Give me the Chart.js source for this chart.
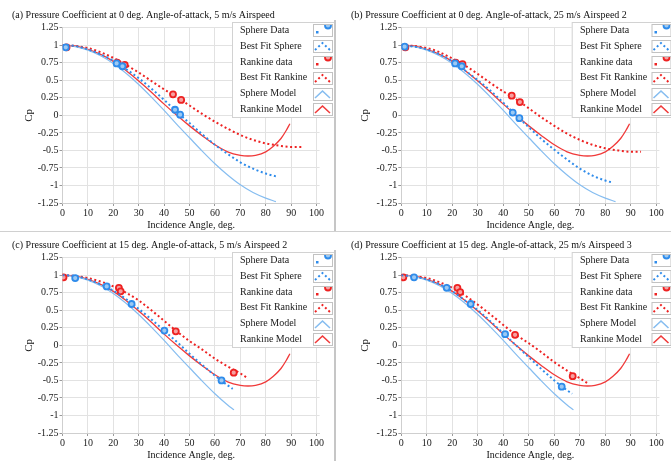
<!DOCTYPE html>
<html>
<head>
<meta charset="utf-8">
<script src="https://cdn.jsdelivr.net/npm/chart.js@4/dist/chart.umd.min.js"></script>
<style>
  html, body { margin: 0; padding: 0; background: #fff; }
  #wrap { position: relative; width: 671px; height: 461px; overflow: hidden; background: #fff; }
  #wrap canvas { position: absolute; }
  .sep { position: absolute; background: #c6c6c6; z-index: 5; }
</style>
</head>
<body>
<div id="wrap">
  <canvas id="pa" width="335" height="231" style="left:0;top:0"></canvas>
  <canvas id="pb" width="336" height="231" style="left:335px;top:0"></canvas>
  <canvas id="pc" width="335" height="229" style="left:0;top:232px"></canvas>
  <canvas id="pd" width="336" height="229" style="left:335px;top:232px"></canvas>
  <div class="sep" style="left:334px;top:20px;width:2px;height:211px"></div>
  <div class="sep" style="left:334px;top:250px;width:2px;height:211px"></div>
  <div class="sep" style="left:0;top:231px;width:671px;height:1px;background:#d0d0d0"></div>
</div>
<script>
// ---- axes ----
const angleTicks = [0, 10, 20, 30, 40, 50, 60, 70, 80, 90, 100];
const cpTicks = [1.25, 1, 0.75, 0.5, 0.25, 0, -0.25, -0.5, -0.75, -1, -1.25];
const cpTickLabels = ['1.25', '1', '0.75', '0.5', '0.25', '0', '-0.25', '-0.5', '-0.75', '-1', '-1.25'];

// ---- panel titles ----
const titleA = '(a) Pressure Coefficient at 0 deg. Angle-of-attack, 5 m/s Airspeed';
const titleB = '(b) Pressure Coefficient at 0 deg. Angle-of-attack, 25 m/s Airspeed 2';
const titleC = '(c) Pressure Coefficient at 15 deg. Angle-of-attack, 5 m/s Airspeed 2';
const titleD = '(d) Pressure Coefficient at 15 deg. Angle-of-attack, 25 m/s Airspeed 3';

// ---- model curves ----
const sphereModelAngleAB = [0, 5, 10, 15, 20, 25, 30, 35, 40, 45, 50, 55, 60, 65, 70, 75, 80, 84];
const sphereModelCpAB    = [1, 0.98, 0.93, 0.85, 0.74, 0.60, 0.44, 0.26, 0.07, -0.13, -0.32, -0.51, -0.69, -0.85, -0.99, -1.10, -1.18, -1.23];
const sphereModelAngleCD = [0, 5, 10, 15, 20, 25, 30, 35, 40, 45, 50, 55, 60, 65, 67.5];
const sphereModelCpCD    = [1, 0.98, 0.93, 0.85, 0.74, 0.60, 0.44, 0.26, 0.07, -0.13, -0.32, -0.51, -0.69, -0.85, -0.92];

const rankineModelAngle = [0, 5, 10, 15, 20, 25, 30, 35, 40, 45, 50, 55, 60, 65, 70, 73, 76, 80, 83, 86, 88, 89.5];
const rankineModelCp    = [1, 0.99, 0.94, 0.87, 0.77, 0.64, 0.49, 0.33, 0.16, 0.0, -0.15, -0.29, -0.42, -0.52, -0.57, -0.58, -0.57, -0.52, -0.44, -0.33, -0.22, -0.12];

// ---- best fit curves ----
const fitSphereAngleA = [0, 5, 10, 15, 20, 25, 30, 35, 40, 45, 50, 55, 60, 65, 70, 75, 80, 84];
const fitSphereCpA    = [1, 0.99, 0.94, 0.87, 0.78, 0.66, 0.53, 0.38, 0.22, 0.05, -0.11, -0.27, -0.42, -0.55, -0.67, -0.76, -0.83, -0.87];
const fitSphereAngleB = [0, 5, 10, 15, 20, 25, 30, 35, 40, 45, 50, 55, 60, 65, 70, 75, 80, 83];
const fitSphereCpB    = [1, 0.98, 0.94, 0.87, 0.77, 0.64, 0.50, 0.35, 0.18, 0.0, -0.17, -0.34, -0.49, -0.63, -0.76, -0.86, -0.93, -0.96];
const fitSphereAngleC = [0, 5, 10, 15, 20, 25, 30, 35, 40, 45, 50, 55, 60, 65, 67];
const fitSphereCpC    = [1, 0.99, 0.94, 0.87, 0.78, 0.66, 0.52, 0.37, 0.21, 0.05, -0.12, -0.28, -0.43, -0.57, -0.62];
const fitSphereAngleD = [0, 5, 10, 15, 20, 25, 30, 35, 40, 45, 50, 55, 60, 65, 67];
const fitSphereCpD    = [1, 0.98, 0.94, 0.87, 0.77, 0.64, 0.50, 0.34, 0.17, 0.0, -0.17, -0.34, -0.50, -0.64, -0.69];

const fitRankineAngleA = [0, 5, 10, 15, 20, 25, 30, 35, 40, 45, 50, 55, 60, 65, 70, 75, 80, 85, 90, 94];
const fitRankineCpA    = [1, 0.99, 0.96, 0.90, 0.82, 0.72, 0.61, 0.49, 0.37, 0.26, 0.14, 0.02, -0.09, -0.19, -0.28, -0.35, -0.40, -0.43, -0.45, -0.45];
const fitRankineAngleB = [0, 5, 10, 15, 20, 25, 30, 35, 40, 45, 50, 55, 60, 65, 70, 75, 80, 85, 90, 94];
const fitRankineCpB    = [1, 0.99, 0.96, 0.90, 0.81, 0.71, 0.59, 0.46, 0.34, 0.23, 0.10, -0.03, -0.15, -0.26, -0.35, -0.42, -0.47, -0.50, -0.52, -0.52];
const fitRankineAngleC = [0, 5, 10, 15, 20, 25, 30, 35, 40, 45, 50, 55, 60, 65, 70, 73];
const fitRankineCpC    = [1, 0.99, 0.96, 0.91, 0.84, 0.75, 0.64, 0.50, 0.35, 0.20, 0.06, -0.06, -0.19, -0.30, -0.40, -0.47];
const fitRankineAngleD = [0, 5, 10, 15, 20, 25, 30, 35, 40, 45, 50, 55, 60, 65, 70, 73];
const fitRankineCpD    = [1, 0.99, 0.96, 0.90, 0.82, 0.71, 0.58, 0.44, 0.29, 0.15, 0.03, -0.10, -0.24, -0.36, -0.47, -0.54];

// ---- measured pressure taps ----
const sphereDataAngleA = [1.3, 21.3, 23.6, 44.3, 46.3];
const sphereDataCpA    = [0.97, 0.74, 0.70, 0.08, 0.01];
const rankineDataAngleA = [1.6, 21.5, 24.5, 43.5, 46.7];
const rankineDataCpA    = [0.97, 0.75, 0.72, 0.30, 0.22];

const sphereDataAngleB = [1.3, 21.1, 23.7, 43.7, 46.3];
const sphereDataCpB    = [0.98, 0.74, 0.70, 0.04, -0.04];
const rankineDataAngleB = [1.6, 21.3, 24.0, 43.3, 46.5];
const rankineDataCpB    = [0.97, 0.75, 0.73, 0.28, 0.19];

const sphereDataAngleC = [5.0, 17.4, 27.2, 40.1, 62.6];
const sphereDataCpC    = [0.96, 0.84, 0.59, 0.21, -0.50];
const rankineDataAngleC = [0.4, 22.2, 22.9, 44.6, 67.4];
const rankineDataCpC    = [0.97, 0.82, 0.77, 0.20, -0.39];

const sphereDataAngleD = [5.0, 17.8, 27.2, 40.7, 62.9];
const sphereDataCpD    = [0.97, 0.82, 0.59, 0.16, -0.59];
const rankineDataAngleD = [0.8, 22.0, 23.1, 44.6, 67.2];
const rankineDataCpD    = [0.97, 0.82, 0.76, 0.15, -0.44];

// ---- styling ----
const BLUE = '#2f8ceb';
const BLUE_FILL = '#9cc9f3';
const BLUE_MODEL = '#86bdf0';
const RED = '#ee2222';
const RED_FILL = '#f6a0a0';
const RED_MODEL = '#f03a3a';
const SERIF = "'Liberation Serif', 'Times New Roman', serif";

Chart.defaults.font.family = SERIF;
Chart.defaults.font.size = 10;
Chart.defaults.color = '#1a1a1a';

const pairs = (xs, ys) => xs.map((x, i) => ({ x: x, y: ys[i] }));

// Boxed legend sitting over the top-right corner of the plot, icons on the right.
const boxLegend = {
  id: 'boxLegend',
  afterDatasetsDraw(chart, args, o) {
    if (!o || !o.show) return;
    const ctx = chart.ctx;
    ctx.save();
    ctx.fillStyle = '#fff';
    ctx.fillRect(o.x, o.y, o.w, o.h);
    ctx.strokeStyle = '#d2d2d2';
    ctx.lineWidth = 1;
    ctx.strokeRect(o.x + 0.5, o.y + 0.5, o.w, o.h);
    ctx.font = '10px ' + SERIF;
    ctx.textBaseline = 'middle';
    ctx.textAlign = 'left';
    chart.data.datasets.forEach((ds, i) => {
      const cy = o.row0 + i * o.step;
      ctx.fillStyle = '#1a1a1a';
      ctx.fillText(ds.label, o.textX, cy);
      const bx = o.iconX, by = Math.round(cy - 6), bw = 19, bh = 12;
      ctx.fillStyle = '#fff';
      ctx.fillRect(bx, by, bw, bh);
      ctx.strokeStyle = '#c2c2c2';
      ctx.lineWidth = 1;
      ctx.strokeRect(bx + 0.5, by + 0.5, bw, bh);
      ctx.save();
      ctx.beginPath();
      ctx.rect(bx + 1, by + 1, bw - 1, bh - 1);
      ctx.clip();
      if (ds.showLine) {
        ctx.strokeStyle = ds.borderColor;
        ctx.lineWidth = ds.borderDash ? 2 : 1.6;
        ctx.setLineDash(ds.borderDash || []);
        ctx.beginPath();
        ctx.moveTo(bx + 2, by + 10);
        ctx.lineTo(bx + 9.5, by + 3);
        ctx.lineTo(bx + 17, by + 10);
        ctx.stroke();
      } else {
        ctx.fillStyle = ds.borderColor;
        ctx.fillRect(bx + 3, by + 7, 2.5, 2.5);
        ctx.beginPath();
        ctx.arc(bx + 15, by + 1.5, 3, 0, Math.PI * 2);
        ctx.lineWidth = 1.8;
        ctx.strokeStyle = ds.borderColor;
        ctx.fillStyle = ds.backgroundColor;
        ctx.fill();
        ctx.stroke();
      }
      ctx.restore();
    });
    ctx.restore();
  }
};

function buildPanel(canvasId, title, s, g) {
  const datasets = [
    { label: 'Sphere Data', data: pairs(s.sdX, s.sdY), showLine: false,
      pointRadius: 3, pointBorderWidth: 1.8, borderColor: BLUE, backgroundColor: BLUE_FILL },
    { label: 'Best Fit Sphere', data: pairs(s.fsX, s.fsY), showLine: true, pointRadius: 0,
      borderColor: BLUE, borderWidth: 2, borderDash: [2, 2.6], cubicInterpolationMode: 'monotone' },
    { label: 'Rankine data', data: pairs(s.rdX, s.rdY), showLine: false,
      pointRadius: 3, pointBorderWidth: 1.8, borderColor: RED, backgroundColor: RED_FILL },
    { label: 'Best Fit Rankine', data: pairs(s.frX, s.frY), showLine: true, pointRadius: 0,
      borderColor: RED, borderWidth: 2, borderDash: [2, 2.6], cubicInterpolationMode: 'monotone' },
    { label: 'Sphere Model', data: pairs(s.smX, s.smY), showLine: true, pointRadius: 0,
      borderColor: BLUE_MODEL, borderWidth: 1.2, cubicInterpolationMode: 'monotone' },
    { label: 'Rankine Model', data: pairs(rankineModelAngle, rankineModelCp), showLine: true, pointRadius: 0,
      borderColor: RED_MODEL, borderWidth: 1.3, cubicInterpolationMode: 'monotone' }
  ];

  return new Chart(document.getElementById(canvasId), {
    type: 'scatter',
    data: { datasets: datasets },
    plugins: [boxLegend],
    options: {
      responsive: false,
      animation: false,
      devicePixelRatio: 1,
      layout: { padding: { left: g.padL, right: g.padR, top: 0, bottom: 0 } },
      plugins: {
        legend: { display: false },
        tooltip: { enabled: false },
        title: {
          display: true, text: title, align: 'start', color: '#111',
          font: { size: 10, weight: 'normal' },
          padding: { top: g.titleTop, bottom: g.titleBottom }
        },
        boxLegend: g.legend
      },
      scales: {
        x: {
          type: 'linear', min: 0, max: 101.2,
          afterBuildTicks: sc => { sc.ticks = angleTicks.map(v => ({ value: v })); },
          afterFit: sc => { sc.height = 28; },
          ticks: { padding: 1, maxRotation: 0, autoSkip: false, color: '#1a1a1a', callback: v => String(v) },
          grid: { color: '#e2e2e2', lineWidth: 1, tickLength: 3, tickColor: '#9a9a9a' },
          border: { color: '#cfcfcf' },
          title: { display: true, text: 'Incidence Angle, deg.', color: '#111', font: { size: 10 }, padding: { top: 0, bottom: 0 } }
        },
        y: {
          type: 'linear', min: -1.25, max: 1.25,
          afterBuildTicks: sc => { sc.ticks = cpTicks.map(v => ({ value: v })); },
          afterFit: sc => { sc.width = g.yW; },
          ticks: { padding: 1, autoSkip: false, color: '#1a1a1a', callback: v => cpTickLabels[cpTicks.indexOf(v)] },
          grid: { color: '#e2e2e2', lineWidth: 1, tickLength: 3, tickColor: '#9a9a9a' },
          border: { color: '#cfcfcf' },
          title: { display: true, text: 'Cp', color: '#111', font: { size: 11 }, padding: { top: g.yTitlePad, bottom: 0 } }
        }
      }
    }
  });
}

const legendTop = (x, y, textX, iconX) => ({ show: true, x: x, y: y, w: 104, h: 95, textX: textX, row0: y + 8.3, step: 15.8, iconX: iconX });

buildPanel('pa', titleA,
  { sdX: sphereDataAngleA, sdY: sphereDataCpA, rdX: rankineDataAngleA, rdY: rankineDataCpA,
    fsX: fitSphereAngleA, fsY: fitSphereCpA, frX: fitRankineAngleA, frY: fitRankineCpA,
    smX: sphereModelAngleAB, smY: sphereModelCpAB },
  { padL: 12, padR: 15.4, yW: 50.5, titleTop: 9, titleBottom: 6.7, yTitlePad: 11, legend: legendTop(232, 22, 240, 313) });

buildPanel('pb', titleB,
  { sdX: sphereDataAngleB, sdY: sphereDataCpB, rdX: rankineDataAngleB, rdY: rankineDataCpB,
    fsX: fitSphereAngleB, fsY: fitSphereCpB, frX: fitRankineAngleB, frY: fitRankineCpB,
    smX: sphereModelAngleAB, smY: sphereModelCpAB },
  { padL: 16, padR: 11.6, yW: 50.3, titleTop: 9, titleBottom: 6.7, yTitlePad: 8, legend: legendTop(236.7, 22, 245, 316.5) });

buildPanel('pc', titleC,
  { sdX: sphereDataAngleC, sdY: sphereDataCpC, rdX: rankineDataAngleC, rdY: rankineDataCpC,
    fsX: fitSphereAngleC, fsY: fitSphereCpC, frX: fitRankineAngleC, frY: fitRankineCpC,
    smX: sphereModelAngleCD, smY: sphereModelCpCD },
  { padL: 12, padR: 15.4, yW: 50.5, titleTop: 7, titleBottom: 6.7, yTitlePad: 11, legend: legendTop(232, 20, 240, 313) });

buildPanel('pd', titleD,
  { sdX: sphereDataAngleD, sdY: sphereDataCpD, rdX: rankineDataAngleD, rdY: rankineDataCpD,
    fsX: fitSphereAngleD, fsY: fitSphereCpD, frX: fitRankineAngleD, frY: fitRankineCpD,
    smX: sphereModelAngleCD, smY: sphereModelCpCD },
  { padL: 16, padR: 11.6, yW: 50.3, titleTop: 7, titleBottom: 6.7, yTitlePad: 8, legend: legendTop(236.7, 20, 245, 316.5) });
</script>
</body>
</html>
